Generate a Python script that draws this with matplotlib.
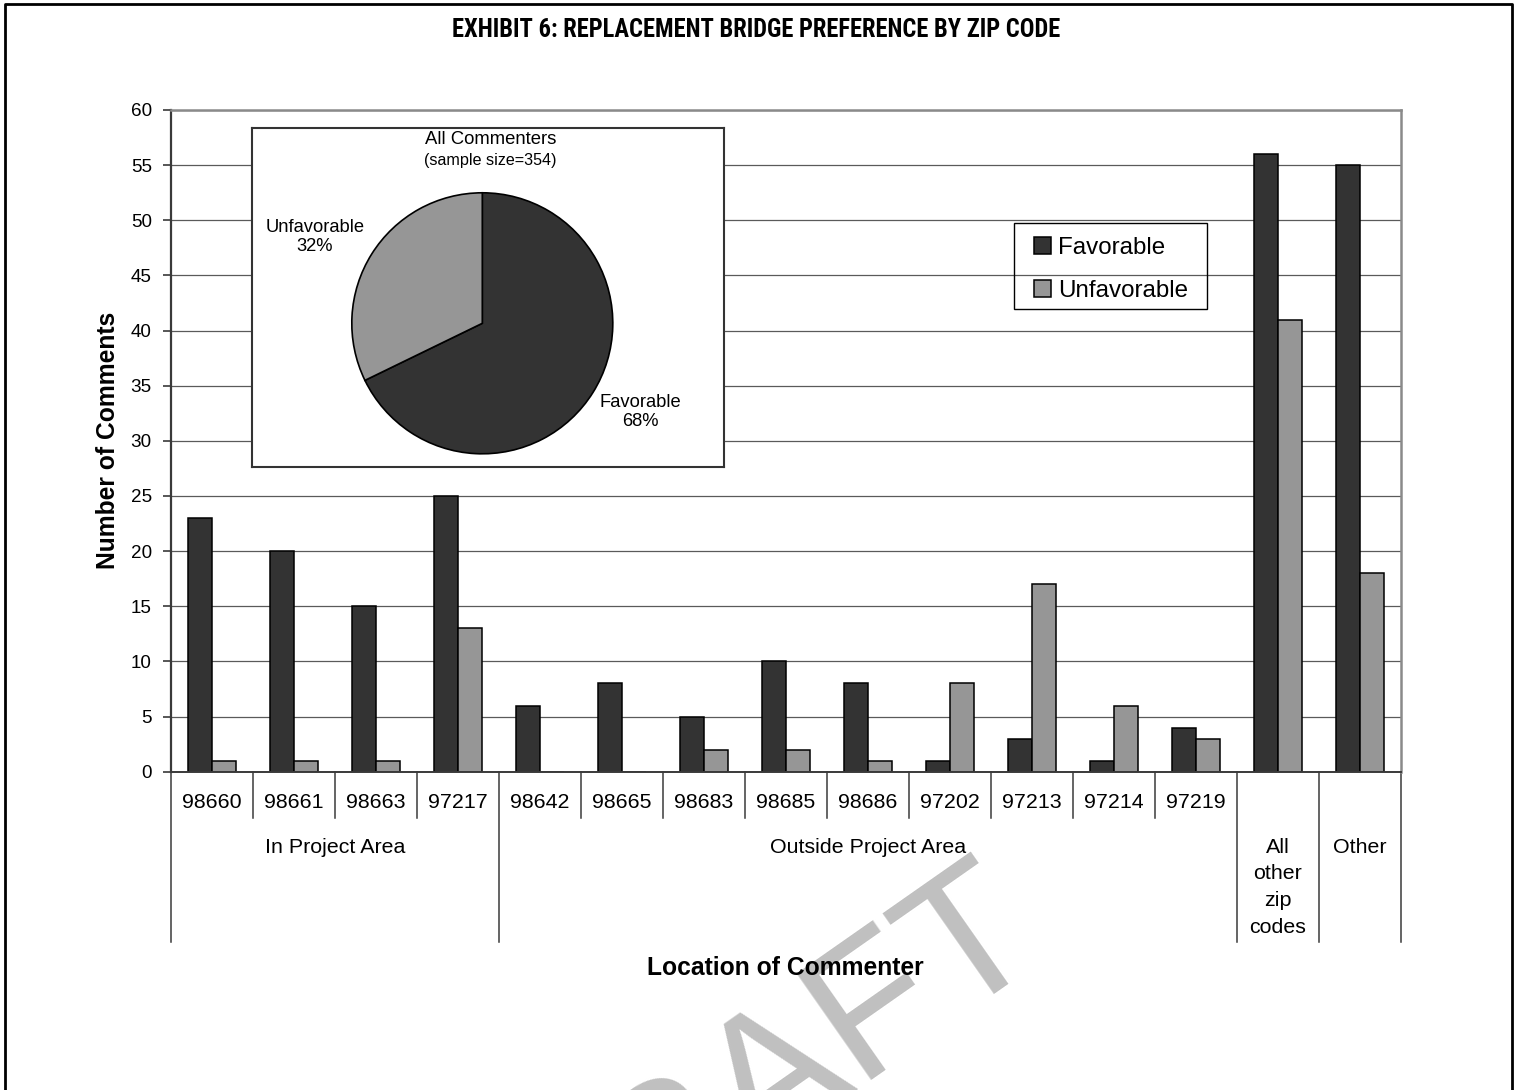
import os
import matplotlib
matplotlib.use("Agg")
import matplotlib.pyplot as plt
from matplotlib import transforms
from matplotlib import font_manager as fm
from matplotlib.lines import Line2D
from matplotlib.patches import Rectangle
import numpy as np

# ---- data -------------------------------------------------------------
zip_codes = ["98660", "98661", "98663", "97217",
             "98642", "98665", "98683", "98685", "98686",
             "97202", "97213", "97214", "97219", "", ""]
group_names = ["In Project Area", "Outside Project Area",
               "All\nother\nzip\ncodes", "Other"]
group_sizes = [4, 9, 1, 1]
favorable = [23, 20, 15, 25, 6, 8, 5, 10, 8, 1, 3, 1, 4, 56, 55]
unfavorable = [1, 1, 1, 13, 0, 0, 2, 2, 1, 8, 17, 6, 3, 41, 18]
series_names = ["Favorable", "Unfavorable"]
y_ticks = list(range(0, 61, 5))

title = "EXHIBIT 6: REPLACEMENT BRIDGE PREFERENCE BY ZIP CODE"
dark, light = "#333333", "#969696"
axis_col = "#3a3a3a"

W, H, DPI = 1517, 1090, 100
plt.rcParams["font.family"] = ["Liberation Sans", "DejaVu Sans"]
fig = plt.figure(figsize=(W / DPI, H / DPI), dpi=DPI)


def px_rect(x0, y0, x1, y1):
    """Figure-fraction rectangle from pixel box (origin top-left)."""
    return [x0 / W, 1 - y1 / H, (x1 - x0) / W, (y1 - y0) / H]


def narrow_bold_font():
    """Return a narrow/condensed bold face if one is installed."""
    prefs = ["liberationsansnarrow-bold", "arialnarrowbold",
             "arialnarrow-bold", "robotocondensed-bold",
             "notosans-condensedbold", "opensans_condensed-bold",
             "opensans-condbold", "dejavusanscondensed-bold"]
    files = {}
    for f in fm.fontManager.ttflist:
        key = os.path.splitext(os.path.basename(f.fname))[0].lower()
        files[key.replace(" ", "")] = f.fname
    for p in prefs:
        for key, path in files.items():
            if key == p:
                return fm.FontProperties(fname=path)
    return fm.FontProperties(family="Liberation Sans", weight="bold")


# ---- main bar chart ----------------------------------------------------
ax = fig.add_axes(px_rect(171, 110, 1400.5, 771.7))
x = np.arange(len(favorable))
bw = 0.293
ax.bar(x - bw / 2, favorable, bw, color=dark, edgecolor="black",
       linewidth=1.1, label=series_names[0], zorder=2)
ax.bar(x + bw / 2, unfavorable, bw, color=light, edgecolor="black",
       linewidth=1.1, label=series_names[1], zorder=2)

ax.set_xlim(-0.5, len(x) - 0.5)
ax.set_ylim(0, 60)
ax.set_yticks(y_ticks)
ax.set_xticks([])
ax.yaxis.grid(True, color="#5a5a5a", linewidth=0.9)
ax.set_axisbelow(True)
ax.tick_params(axis="y", length=5.8, width=1.2, color=axis_col,
               pad=8, labelsize=13.6)
ax.spines["left"].set_color(axis_col)
ax.spines["left"].set_linewidth(1.6)
ax.spines["bottom"].set_color(axis_col)
ax.spines["bottom"].set_linewidth(1.4)
for s in ("top", "right"):
    ax.spines[s].set_color("#8a8a8a")
    ax.spines[s].set_linewidth(1.8)

# multi-level category axis
trans = transforms.blended_transform_factory(ax.transData, ax.transAxes)
group_edges = set(np.cumsum([0] + group_sizes) - 0.5)
for b in np.arange(len(x) + 1) - 0.5:
    depth = -0.257 if b in group_edges else -0.0695
    ax.plot([b, b], [0, depth], transform=trans, clip_on=False,
            color=axis_col, linewidth=1.1)
for i, z in enumerate(zip_codes):
    ax.text(i, -0.0469, z, transform=trans, ha="center", va="center",
            fontsize=15.4)
start = 0
for name, size in zip(group_names, group_sizes):
    c = start + (size - 1) / 2
    for k, line in enumerate(name.split("\n")):
        ax.text(c, -0.1138 - k * 0.0408, line, transform=trans,
                ha="center", va="center", fontsize=15.4)
    start += size

ax.set_ylabel("Number of Comments", fontsize=17.7, fontweight="bold")
ax.yaxis.set_label_coords(-0.051, 0.5)
ax.yaxis.label.set_va("center")
ax.set_xlabel("Location of Commenter", fontsize=17.7, fontweight="bold")
ax.xaxis.set_label_coords(0.5, -0.2967)
ax.xaxis.label.set_va("center")

# legend with a plain rectangular frame
leg = ax.legend(loc="upper left", bbox_to_anchor=(1034 / W, 1 - 236.6 / H),
                bbox_transform=fig.transFigure, fontsize=17.4,
                frameon=False, handlelength=0.7, handleheight=0.7,
                handletextpad=0.3, labelspacing=0.9, borderpad=0,
                borderaxespad=0)
fig.add_artist(Rectangle((1014 / W, 1 - 309.3 / H), 193.3 / W, 86 / H,
                         transform=fig.transFigure, fill=False,
                         edgecolor="black", linewidth=1.0, zorder=4))

# ---- inset pie of all commenters ---------------------------------------
total_fav, total_unf = sum(favorable), sum(unfavorable)
total = total_fav + total_unf
ax2 = fig.add_axes(px_rect(251.7, 128.3, 724.3, 466.7), zorder=3)
ax2.set_facecolor("white")
ax2.pie([total_fav, total_unf], colors=[dark, light], startangle=90,
        counterclock=False, center=(230.6, 143.4), radius=130.5,
        frame=True, wedgeprops=dict(edgecolor="black", linewidth=1.2))
ax2.set_xlim(0, 472.6)
ax2.set_ylim(0, 338.4)
ax2.set_aspect("auto")
ax2.set_xticks([])
ax2.set_yticks([])
for s in ax2.spines.values():
    s.set_color("#333333")
    s.set_linewidth(1.5)
ax2.text(239, 326.7, "All Commenters", ha="center", va="center",
         fontsize=13.3)
ax2.text(239, 306, f"(sample size={total})", ha="center", va="center",
         fontsize=11.6)
ax2.text(63.3, 229.7,
         f"{series_names[1]}\n{round(100 * total_unf / total)}%",
         ha="center", va="center", fontsize=13.2)
ax2.text(389.1, 54.9,
         f"{series_names[0]}\n{round(100 * total_fav / total)}%",
         ha="center", va="center", fontsize=13.2)

# ---- title, watermark, frame -------------------------------------------
title_txt = fig.text(756 / W, 1 - 37.3 / H, title, ha="center",
                     va="baseline", fontproperties=narrow_bold_font())
title_txt.set_fontsize(16)
renderer = fig.canvas.get_renderer()
tw = title_txt.get_window_extent(renderer).width
title_txt.set_fontsize(16 * 610 / tw)

fig.text(787 / W, 1 - 1128 / H, "DRAFT", rotation=35,
         rotation_mode="anchor", ha="center", va="baseline",
         fontsize=137, color="#c0c0c0", zorder=-1)
fig.add_artist(Line2D([4.7 / W, 4.7 / W, 1512 / W, 1512 / W],
                      [0, 1 - 3.7 / H, 1 - 3.7 / H, 0],
                      transform=fig.transFigure, color="black",
                      linewidth=2.0))

fig.savefig("out.png", dpi=DPI)
